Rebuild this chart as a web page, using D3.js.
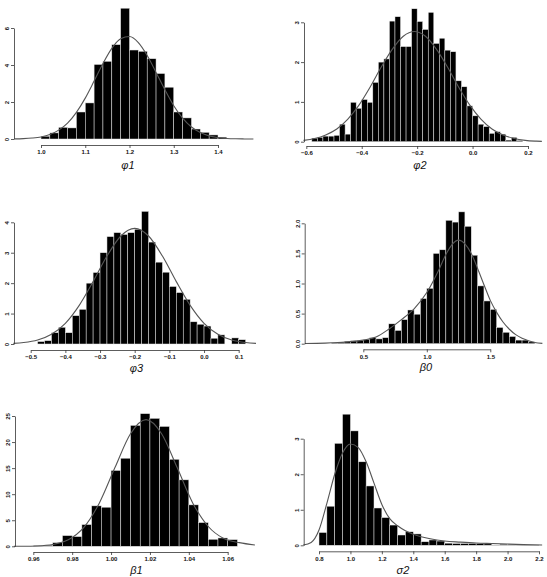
<!DOCTYPE html>
<html lang="en">
  <head>
    <meta charset="utf-8" />
    <title>Posterior histograms</title>
    <script src="https://d3js.org/d3.v7.min.js"></script>
    <style>
      body {
        margin: 0;
        background: #fff;
      }

      rect.bar {
        fill: #000;
        stroke: #e6e6e6;
        stroke-width: 0.5px;
      }

      path.curve {
        fill: none;
        stroke: #555;
        stroke-width: 1.1px;
      }

      .axis path,
      .axis line {
        stroke: #333;
        stroke-width: 0.8px;
      }

      .axis text {
        font-family: "Liberation Sans", Arial, sans-serif;
        font-size: 6px;
        font-weight: bold;
        fill: #111;
      }

      text.title {
        font-family: "Liberation Sans", Arial, sans-serif;
        font-style: italic;
        font-size: 11px;
        text-anchor: middle;
        fill: #111;
      }
    </style>
  </head>
  <body>
    <svg id="chart" width="547" height="577"></svg>

    <script>
      // --------------------------------------------------
      // data: histogram heights (bin start + width) and fitted curve
      // --------------------------------------------------
      const phi1BinStart = 1.0, phi1BinWidth = 0.02;
      const phi1Heights = [0.15, 0.33, 0.63, 0.6, 1.46, 1.95, 4.03, 4.2, 5.1, 7.07, 4.81,
        4.74, 4.34, 3.54, 2.8, 1.46, 1.14, 0.54, 0.36, 0.22, 0.1];
      const phi1CurveX = [0.94, 0.96, 0.98, 1.0, 1.02, 1.04, 1.06, 1.08, 1.1, 1.12, 1.14, 1.16,
        1.18, 1.2, 1.22, 1.24, 1.26, 1.28, 1.3, 1.32, 1.34, 1.36, 1.38, 1.4, 1.42, 1.44, 1.46, 1.48];
      const phi1CurveY = [0.007, 0.02, 0.05, 0.11, 0.24, 0.48, 0.86, 1.44, 2.21, 3.13, 4.08, 4.9,
        5.42, 5.54, 5.21, 4.51, 3.6, 2.66, 1.8, 1.13, 0.65, 0.35, 0.17, 0.08, 0.03, 0.01, 0.004, 0.001];
      const phi1XTicks = [1.0, 1.1, 1.2, 1.3, 1.4];
      const phi1YTicks = [0, 2, 4, 6];

      const phi2BinStart = -0.58, phi2BinWidth = 0.02;
      const phi2Heights = [0.09, 0.11, 0.14, 0.14, 0.16, 0.44, 0.19, 0.99, 0.84, 1.06, 0.99, 1.49,
        2.0, 2.08, 3.03, 3.14, 2.39, 2.39, 3.34, 3.02, 2.82, 3.25, 2.47, 2.6, 2.3, 2.26, 1.53, 1.38,
        0.9, 0.65, 0.44, 0.38, 0.21, 0.25, 0.19, 0.04, 0.11, 0.03];
      const phi2CurveX = [-0.61, -0.57, -0.53, -0.49, -0.45, -0.41, -0.37, -0.33, -0.29, -0.25,
        -0.21, -0.17, -0.13, -0.09, -0.05, -0.01, 0.03, 0.07, 0.11, 0.15, 0.19, 0.23, 0.25];
      const phi2CurveY = [0.034, 0.08, 0.17, 0.32, 0.57, 0.92, 1.37, 1.87, 2.32, 2.65, 2.77, 2.65,
        2.32, 1.87, 1.37, 0.92, 0.57, 0.32, 0.17, 0.08, 0.034, 0.014, 0.008];
      const phi2XTicks = [-0.6, -0.4, -0.2, 0.0, 0.2];
      const phi2YTicks = [0, 1, 2, 3];

      const phi3BinStart = -0.48, phi3BinWidth = 0.02;
      const phi3Heights = [0.08, 0.11, 0.37, 0.55, 0.37, 0.93, 1.14, 2.0, 2.35, 3.0, 3.53, 3.66,
        3.6, 3.66, 3.77, 4.36, 3.35, 2.69, 2.36, 1.89, 1.69, 1.47, 0.73, 0.65, 0.59, 0.19, 0.3, 0,
        0.2, 0.14];
      const phi3CurveX = [-0.55, -0.52, -0.48, -0.44, -0.4, -0.36, -0.32, -0.28, -0.24, -0.2,
        -0.16, -0.12, -0.08, -0.04, 0.0, 0.04, 0.08, 0.12, 0.15];
      const phi3CurveY = [0.02, 0.047, 0.13, 0.32, 0.68, 1.27, 2.05, 2.89, 3.55, 3.8, 3.55, 2.89,
        2.05, 1.27, 0.68, 0.32, 0.13, 0.047, 0.02];
      const phi3XTicks = [-0.5, -0.4, -0.3, -0.2, -0.1, 0.0, 0.1];
      const phi3YTicks = [0, 1, 2, 3, 4];

      const beta0BinStart = 0.25, beta0BinWidth = 0.05;
      const beta0Heights = [0.01, 0.02, 0.04, 0.05, 0.055, 0.07, 0.1, 0.08, 0.1, 0.33, 0.22, 0.4,
        0.56, 0.49, 0.75, 0.92, 1.5, 1.56, 2.05, 2.02, 2.19, 1.95, 1.47, 0.96, 0.71, 0.57, 0.27,
        0.19, 0.12, 0.06, 0.06, 0.03];
      const beta0CurveX = [0.04, 0.2, 0.3, 0.4, 0.5, 0.6, 0.7, 0.8, 0.9, 1.0, 1.1, 1.15, 1.2, 1.25,
        1.3, 1.35, 1.4, 1.45, 1.5, 1.55, 1.6, 1.65, 1.7, 1.75, 1.8, 1.85, 1.91];
      const beta0CurveY = [0.003, 0.01, 0.02, 0.035, 0.06, 0.11, 0.24, 0.4, 0.58, 0.85, 1.25, 1.48,
        1.65, 1.72, 1.66, 1.5, 1.25, 0.98, 0.72, 0.52, 0.36, 0.24, 0.15, 0.09, 0.05, 0.02, 0.006];
      const beta0XTicks = [0.5, 1.0, 1.5];
      const beta0YTicks = [0.0, 0.5, 1.0, 1.5, 2.0];

      const beta1BinStart = 0.96, beta1BinWidth = 0.005;
      const beta1Heights = [0.13, 0.2, 0.7, 2.05, 1.86, 4.17, 7.76, 7.5, 14.55, 16.9, 23.2, 25.45,
        24.55, 23.0, 16.7, 12.75, 7.95, 4.55, 1.35, 1.6, 1.28];
      const beta1CurveX = [0.95, 0.954, 0.962, 0.97, 0.978, 0.986, 0.994, 1.002, 1.01, 1.018,
        1.026, 1.034, 1.042, 1.05, 1.058, 1.066, 1.074];
      const beta1CurveY = [0.005, 0.012, 0.07, 0.34, 1.24, 3.62, 8.33, 15.1, 21.6, 24.3, 21.6, 15.1,
        8.33, 3.8, 1.5, 0.7, 0.25];
      const beta1XTicks = [0.96, 0.98, 1.0, 1.02, 1.04, 1.06];
      const beta1YTicks = [0, 5, 10, 15, 20, 25];

      const sigma2BinStart = 0.8, sigma2BinWidth = 0.05;
      const sigma2Heights = [0.36, 1.1, 2.87, 3.69, 3.22, 2.35, 1.67, 1.05, 0.78, 0.57, 0.29, 0.38,
        0.32, 0.1, 0.15, 0.12, 0.06, 0.05, 0.05, 0.05, 0.05, 0.04, 0.01, 0.03, 0.02, 0.03, 0.01, 0.01];
      const sigma2CurveX = [0.7, 0.75, 0.8, 0.85, 0.9, 0.95, 1.0, 1.05, 1.1, 1.15, 1.2, 1.25, 1.3,
        1.35, 1.4, 1.45, 1.5, 1.55, 1.6, 1.7, 1.8, 1.9, 2.0, 2.1, 2.22];
      const sigma2CurveY = [0.01, 0.08, 0.43, 1.18, 2.0, 2.6, 2.85, 2.75, 2.35, 1.75, 1.15, 0.75,
        0.55, 0.41, 0.31, 0.24, 0.19, 0.15, 0.12, 0.09, 0.065, 0.05, 0.035, 0.02, 0.01];
      const sigma2XTicks = [0.8, 1.0, 1.2, 1.4, 1.6, 1.8, 2.0, 2.2];
      const sigma2YTicks = [0, 1, 2, 3];

      // --------------------------------------------------
      // panel layout (pixel positions)
      // --------------------------------------------------
      const panels = [
        { title: "\u03c61", start: phi1BinStart, width: phi1BinWidth, heights: phi1Heights,
          cx: phi1CurveX, cy: phi1CurveY, xTicks: phi1XTicks, yTicks: phi1YTicks,
          xFmt: ".1f", yFmt: "d",
          axisX: 14, px0: 41, px1: 218, py0: 139, py1: 28, axisY: 145, tx: 128, ty: 169 },
        { title: "\u03c62", start: phi2BinStart, width: phi2BinWidth, heights: phi2Heights,
          cx: phi2CurveX, cy: phi2CurveY, xTicks: phi2XTicks, yTicks: phi2YTicks,
          xFmt: ".1f", yFmt: "d",
          axisX: 304, px0: 306.3, px1: 528, py0: 141.7, py1: 22.3, axisY: 146, tx: 420, ty: 169 },
        { title: "\u03c63", start: phi3BinStart, width: phi3BinWidth, heights: phi3Heights,
          cx: phi3CurveX, cy: phi3CurveY, xTicks: phi3XTicks, yTicks: phi3YTicks,
          xFmt: ".1f", yFmt: "d",
          axisX: 14, px0: 30.7, px1: 238.7, py0: 344, py1: 222.3, axisY: 350, tx: 136.5, ty: 372 },
        { title: "\u03b20", start: beta0BinStart, width: beta0BinWidth, heights: beta0Heights,
          cx: beta0CurveX, cy: beta0CurveY, xTicks: beta0XTicks, yTicks: beta0YTicks,
          xFmt: ".1f", yFmt: ".1f",
          axisX: 304.7, px0: 363.3, px1: 490.3, py0: 343.7, py1: 223.3, axisY: 349.3, tx: 426, ty: 370.5 },
        { title: "\u03b21", start: beta1BinStart, width: beta1BinWidth, heights: beta1Heights,
          cx: beta1CurveX, cy: beta1CurveY, xTicks: beta1XTicks, yTicks: beta1YTicks,
          xFmt: ".2f", yFmt: "d",
          axisX: 15, px0: 33.3, px1: 227.7, py0: 546.3, py1: 416, axisY: 552, tx: 136.5, ty: 573.5 },
        { title: "\u03c32", start: sigma2BinStart, width: sigma2BinWidth, heights: sigma2Heights,
          cx: sigma2CurveX, cy: sigma2CurveY, xTicks: sigma2XTicks, yTicks: sigma2YTicks,
          xFmt: ".1f", yFmt: "d",
          axisX: 303.7, px0: 319, px1: 539, py0: 545.3, py1: 438.7, axisY: 551.3, tx: 403, ty: 573.5 }
      ];

      const svg = d3.select("#chart");

      panels.forEach((p) => {
        const g = svg.append("g");
        const t0 = p.xTicks[0];
        const t1 = p.xTicks[p.xTicks.length - 1];
        const yMax = p.yTicks[p.yTicks.length - 1];

        const x = d3.scaleLinear().domain([t0, t1]).range([p.px0, p.px1]);
        const y = d3.scaleLinear().domain([0, yMax]).range([p.py0, p.py1]);

        // bars (empty bins skipped)
        g.selectAll("rect.bar")
          .data(p.heights.map((h, i) => ({ h, i })).filter((d) => d.h > 0))
          .enter()
          .append("rect")
          .attr("class", "bar")
          .attr("x", (d) => x(p.start + d.i * p.width))
          .attr("width", (d) => x(p.start + (d.i + 1) * p.width) - x(p.start + d.i * p.width))
          .attr("y", (d) => y(d.h))
          .attr("height", (d) => y(0) - y(d.h));

        // fitted density
        const pts = p.cx.map((v, i) => [v, p.cy[i]]);
        g.append("path")
          .attr("class", "curve")
          .attr("d", d3.line()
            .x((d) => x(d[0]))
            .y((d) => y(d[1]))
            .curve(d3.curveMonotoneX)(pts));

        // x axis: line only between first and last tick, set below the bars
        g.append("g")
          .attr("class", "axis")
          .attr("transform", `translate(0,${p.axisY})`)
          .call(d3.axisBottom(x)
            .tickValues(p.xTicks)
            .tickFormat(d3.format(p.xFmt))
            .tickSize(3)
            .tickSizeOuter(0)
            .tickPadding(2));

        // y axis with rotated labels
        const ya = g.append("g")
          .attr("class", "axis")
          .attr("transform", `translate(${p.axisX},0)`)
          .call(d3.axisLeft(y)
            .tickValues(p.yTicks)
            .tickFormat(d3.format(p.yFmt))
            .tickSize(3)
            .tickSizeOuter(0));

        ya.selectAll(".tick text")
          .attr("x", 0)
          .attr("y", -5)
          .attr("dy", null)
          .attr("text-anchor", "middle")
          .attr("transform", "rotate(-90)");

        g.append("text")
          .attr("class", "title")
          .attr("x", p.tx)
          .attr("y", p.ty)
          .text(p.title);
      });
    </script>
  </body>
</html>
